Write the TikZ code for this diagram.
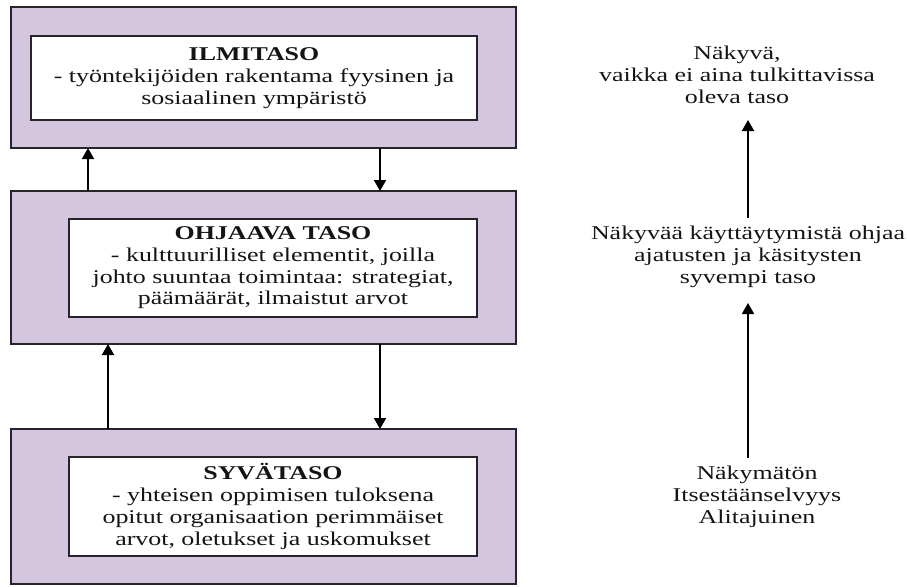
\documentclass[tikz,border=0pt]{standalone}
\usepackage{fontspec}
\setmainfont{Liberation Serif}
\usetikzlibrary{arrows.meta}
\definecolor{lav}{RGB}{213,198,223}
\definecolor{edge}{RGB}{40,36,44}
\definecolor{ink}{RGB}{20,20,20}
\begin{document}
\begin{tikzpicture}[x=1pt,y=-1pt,
  outerbox/.style={draw=edge,fill=lav,line width=1.8pt,inner sep=0pt,outer sep=0pt},
  innerbox/.style={draw=edge,fill=white,line width=1.6pt,inner sep=0pt,outer sep=0pt},
  txt/.style={align=center,font=\fontsize{19.5}{21.7}\selectfont,inner sep=0pt,text=ink,
    xscale=1.33,transform shape},
  arr/.style={line width=1.8pt,-{Triangle[length=11pt,width=12pt]}}]
\useasboundingbox (0,0) rectangle (907,586);
% outer boxes
\node[outerbox,minimum width=505pt,minimum height=141pt] (b1) at (263.5,77.5) {};
\node[outerbox,minimum width=505pt,minimum height=153pt] (b2) at (263.5,267.5) {};
\node[outerbox,minimum width=505pt,minimum height=155pt] (b3) at (263.5,506.5) {};
% inner boxes
\node[innerbox,minimum width=446pt,minimum height=84pt] (i1) at (254,78) {};
\node[innerbox,minimum width=408pt,minimum height=98pt] (i2) at (273,268) {};
\node[innerbox,minimum width=408pt,minimum height=99pt] (i3) at (273,506.5) {};
\node[txt] (l1) at (i1.center)
  {\textbf{ILMITASO}\\- työntekijöiden rakentama fyysinen ja\\sosiaalinen ympäristö};
\node[txt] (l2) at (i2.center)
  {\textbf{OHJAAVA TASO}\\- kulttuurilliset elementit, joilla\\johto suuntaa toimintaa: strategiat,\\päämäärät, ilmaistut arvot};
\node[txt] (l3) at (i3.center)
  {\textbf{SYVÄTASO}\\- yhteisen oppimisen tuloksena\\opitut organisaation perimmäiset\\arvot, oletukset ja uskomukset};
% left arrows
\coordinate (xu1) at (88,0);
\coordinate (xu2) at (108,0);
\coordinate (xd) at (380,0);
\draw[arr] (b2.north -| xu1) -- (b1.south -| xu1);
\draw[arr] (b1.south -| xd) -- (b2.north -| xd);
\draw[arr] (b3.north -| xu2) -- (b2.south -| xu2);
\draw[arr] (b2.south -| xd) -- (b3.north -| xd);
% right texts
\node[txt] (t1) at (737,75) {Näkyvä,\\vaikka ei aina tulkittavissa\\oleva taso};
\node[txt] (t2) at (748,257) {Näkyvää käyttäytymistä ohjaa\\ajatusten ja käsitysten\\syvempi taso};
\node[txt] (t3) at (757,497) {Näkymätön\\Itsestäänselvyys\\Alitajuinen};
% right arrows
\coordinate (a1s) at (748,218);
\coordinate (a1e) at (748,120);
\coordinate (a2s) at (748,458);
\coordinate (a2e) at (748,303);
\draw[arr] (a1s) -- (a1e);
\draw[arr] (a2s) -- (a2e);
\end{tikzpicture}
\end{document}
